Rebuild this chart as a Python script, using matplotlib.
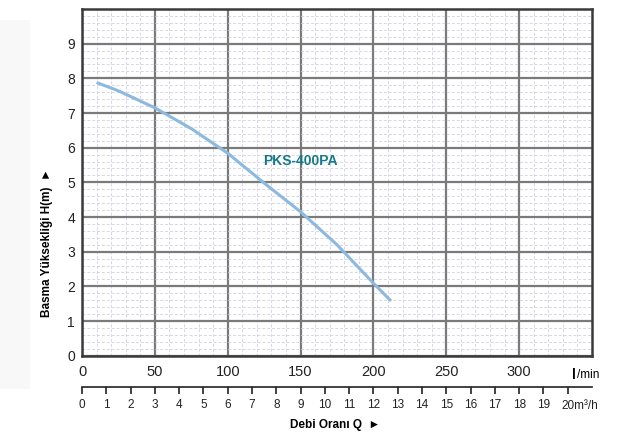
import matplotlib.pyplot as plt
from matplotlib.patches import Rectangle
from matplotlib.ticker import MultipleLocator

plt.rcParams['font.family'] = ['Liberation Sans', 'DejaVu Sans']

# Curve (l/min, m)
debi = [10, 25, 50, 75, 100, 125, 150, 175, 200, 212]
basma = [7.88, 7.64, 7.15, 6.55, 5.84, 4.98, 4.15, 3.2, 2.09, 1.58]

x_ticks = [0, 50, 100, 150, 200, 250, 300]
y_ticks = [0, 1, 2, 3, 4, 5, 6, 7, 8, 9]
m3_ticks = list(range(0, 21))
m3_labels = [str(v) for v in range(0, 20)] + ['']

fig = plt.figure(figsize=(6.26, 4.4), dpi=100)

# faint panel at the left edge
fig.patches.append(Rectangle((0, 0.115), 0.048, 0.84, transform=fig.transFigure,
                             facecolor='#f8f8f8', edgecolor='none', zorder=0))

ax = fig.add_axes([0.131, 0.1916, 0.8147, 0.7879])
ax.plot(debi, basma, color='#8cb9df', lw=2.2, solid_capstyle='butt', zorder=5)

ax.set_xlim(0, 350)
ax.set_ylim(0, 10)
ax.xaxis.set_major_locator(MultipleLocator(50))
ax.xaxis.set_minor_locator(MultipleLocator(10))
ax.yaxis.set_minor_locator(MultipleLocator(0.2))
ax.set_xticks(x_ticks)
ax.set_xticklabels([str(v) for v in x_ticks])
ax.set_yticks(y_ticks)
ax.grid(which='major', color='#7a7a7a', lw=1.6)
ax.grid(which='minor', color='#d6d6e6', lw=0.7, linestyle=(0, (3, 2)))
ax.set_axisbelow(True)
ax.tick_params(which='both', length=0)
ax.tick_params(axis='x', pad=7, labelsize=10.5, colors='#222222')
ax.tick_params(axis='y', pad=5, labelsize=10, colors='#222222')
for s in ax.spines.values():
    s.set_color('#3a3a3a')
    s.set_linewidth(1.8)

ax.text(124, 5.62, 'PKS-400PA', color='#16798a', fontsize=10, fontweight='bold',
        ha='left', va='center')

fig.text(0.075, 0.448, 'Basma Yüksekliği H(m)  \u25ba', fontsize=8.5,
         fontweight='bold', rotation=90, ha='center', va='center',
         family=['Liberation Sans', 'DejaVu Sans'])

fig.text(0.914, 0.147, 'l', fontsize=10, fontweight='bold', ha='left', va='center')
fig.text(0.922, 0.147, '/min', fontsize=8.5, ha='left', va='center')

# secondary flow scale in m3/h
ax2 = fig.add_axes([0.131, 0.1211, 0.8147, 0.0001])
ax2.set_xlim(0, 21)
ax2.set_xticks(m3_ticks)
ax2.set_xticklabels(m3_labels)
ax2.set_yticks([])
for k in ['left', 'right', 'top']:
    ax2.spines[k].set_visible(False)
ax2.spines['bottom'].set_color('#222222')
ax2.spines['bottom'].set_linewidth(1.2)
ax2.tick_params(axis='x', direction='out', length=5, width=1.2, pad=4,
                labelsize=8.5, colors='#222222')
fig.text(0.8975, 0.078, '20m\u00b3/h', fontsize=8.5, ha='left', va='center',
         color='#222222')

fig.text(0.535, 0.034, 'Debi Oranı Q  \u25ba', fontsize=8.5, fontweight='bold',
         ha='center', va='center', family=['Liberation Sans', 'DejaVu Sans'])

fig.savefig('out.png', dpi=100)
